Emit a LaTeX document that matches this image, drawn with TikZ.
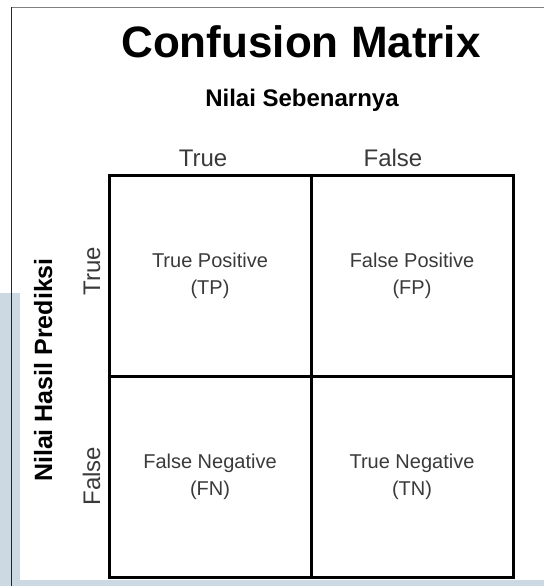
\documentclass[tikz,border=0pt]{standalone}
\usepackage{fontspec}
\setmainfont{Liberation Sans}
\usetikzlibrary{positioning}
\definecolor{cellGray}{HTML}{3A3A3A}
\definecolor{markBlue}{HTML}{CCD8E2}
\definecolor{frameGray}{HTML}{808080}

\begin{document}
\begin{tikzpicture}[
    x=1pt, y=1pt,
    node distance=0pt,
    cell/.style={
        draw,
        line width=3pt,
        outer sep=0pt,
        align=center,
        text=cellGray,
        minimum width=202pt,
        minimum height=201pt,
        font=\fontsize{20}{27}\selectfont
    },
    head/.style={text=cellGray, font=\fontsize{24}{28}\selectfont},
    axislabel/.style={font=\bfseries\fontsize{25}{30}\selectfont}
]
  \useasboundingbox (0,0) rectangle (544,-586);
  % light strips along the edges
  \fill[markBlue] (0,-293) rectangle (20,-586);
  \fill[markBlue] (0,-580) rectangle (544,-586);
  % page frame
  \draw[frameGray, line width=1.5pt] (11,-7.5) -- (544,-7.5);
  \draw[black!85, line width=1.5pt] (11.5,-7) -- (11.5,-586);

  \node[font=\bfseries\fontsize{44}{50}\selectfont, anchor=base] (title) at (301,-58) {Confusion Matrix};
  \node[axislabel, font=\bfseries\fontsize{24}{28}\selectfont, anchor=base] (actual) at (302,-106) {Nilai Sebenarnya};

  \node[cell] (TP) at (210,-275.5) {True Positive\\(TP)};
  \node[cell, right=of TP] (FP) {False Positive\\(FP)};
  \node[cell, below=of TP] (FN) {False Negative\\(FN)};
  \node[cell, right=of FN] (TN) {True Negative\\(TN)};

  \node[head, above=4.5pt of TP, xshift=-7pt] (colT) {True};
  \node[head, above=4.5pt of FP, xshift=-19pt] (colF) {False};

  \node[head, rotate=90, anchor=base] (rowT) at (100,-271.5) {True};
  \node[head, rotate=90, anchor=base] (rowF) at (100,-476) {False};
  \node[axislabel, rotate=90, anchor=base] (predicted) at (52,-370) {Nilai Hasil Prediksi};
\end{tikzpicture}
\end{document}
